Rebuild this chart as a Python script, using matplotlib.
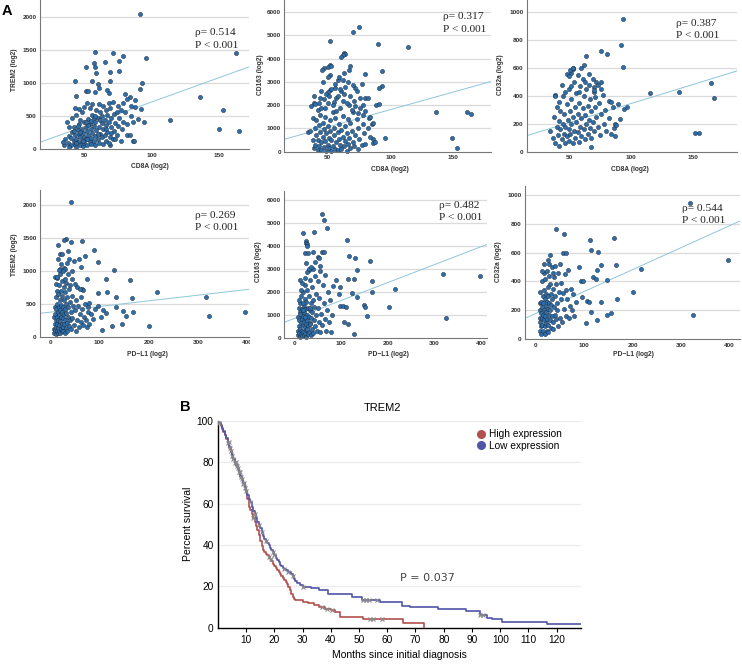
import numpy as np
import matplotlib
matplotlib.use('Agg')
import matplotlib.pyplot as plt
from matplotlib.transforms import Bbox, TransformedBbox
from matplotlib.lines import Line2D

plt.rcParams['font.family'] = ['Liberation Sans', 'DejaVu Sans']

# ---------------- Panel A data ----------------
# TREM2 vs CD8A
trem2_cd8a = [
    (91, 2040), (163, 1450), (96, 1380), (58, 1470), (71, 1460), (79, 1415), (76, 1330), (65, 1315),
    (51, 1245), (57, 1300), (58, 1245), (59, 1155), (69, 1175), (76, 1180), (43, 1030), (56, 1040),
    (69, 1030), (60, 995), (93, 1005), (61, 920), (51, 880), (53, 875), (58, 865), (67, 895),
    (68, 850), (44, 800), (136, 790), (80, 840), (84, 790), (91, 905), (88, 740), (92, 605),
    (114, 440), (153, 590), (150, 300), (165, 280), (94, 415), (86, 120), (82, 210), (69, 60),
    (36, 150), (38, 90), (39, 200), (40, 60), (40, 170), (41, 260), (42, 120), (42, 330), (43, 80),
    (43, 210), (44, 40), (44, 160), (45, 290), (45, 110), (46, 380), (46, 230), (47, 70), (47, 180),
    (48, 310), (48, 130), (49, 50), (49, 250), (50, 420), (50, 190), (50, 90), (51, 340), (51, 150),
    (52, 60), (52, 270), (53, 210), (53, 460), (54, 120), (54, 380), (55, 80), (55, 300), (55, 170),
    (56, 240), (56, 520), (57, 130), (57, 350), (58, 60), (58, 410), (58, 200), (59, 290), (60, 150),
    (60, 480), (61, 100), (61, 340), (62, 230), (62, 560), (63, 180), (63, 400), (64, 80), (64, 300),
    (65, 450), (65, 210), (66, 130), (66, 360), (67, 520), (67, 260), (68, 90), (68, 410), (69, 190),
    (69, 620), (70, 330), (70, 470), (71, 150), (72, 280), (72, 540), (73, 400), (74, 220), (75, 350),
    (75, 650), (76, 480), (77, 130), (78, 300), (79, 420), (80, 560), (82, 390), (84, 210), (85, 500),
    (87, 120), (88, 640), (90, 460), (37, 420), (39, 340), (41, 480), (44, 520), (46, 610), (48, 560),
    (50, 640), (52, 700), (54, 620), (56, 680), (59, 590), (61, 690), (64, 660), (66, 600), (68, 700),
    (71, 720), (74, 560), (77, 600), (79, 700), (82, 760), (85, 650), (86, 420), (43, 620), (47, 450),
    (53, 360), (57, 470), (60, 230), (63, 500), (45, 350), (51, 410), (49, 130), (42, 280), (58, 510),
    (62, 440), (66, 300), (70, 240), (73, 160), (55, 430), (47, 260), (52, 150), (44, 90), (39, 30),
    (35, 60), (34, 110),
]

# CD163 vs CD8A
cd163_cd8a = [
    (75, 5380), (70, 5130), (52, 4770), (90, 4630), (114, 4520), (63, 4250), (63.5, 4200), (62, 4140),
    (61, 4070), (52, 3730), (50, 3660), (53, 3700), (47, 3590), (45.5, 3530), (68, 3700), (80, 3340),
    (93, 3490), (93, 2830), (91, 2760), (58, 3100), (62, 3070), (51.5, 2670), (50, 2560), (56, 2720),
    (71.5, 2720), (80, 2330), (78, 2010), (88.5, 2030), (91, 2070), (136, 1710), (161, 1710),
    (164, 1640), (83, 1440), (85, 1170), (96, 600), (149, 610), (153, 170), (86, 530), (86, 360),
    (37, 1960), (39, 2100), (34, 860),
    (36, 900), (38, 1450), (38, 500), (39, 150), (40, 1000), (40, 300), (41, 700), (41, 1350), (42, 80),
    (42, 520), (43, 1150), (43, 250), (44, 850), (44, 1600), (45, 60), (45, 400), (46, 1250), (46, 650),
    (47, 200), (47, 980), (48, 1500), (48, 450), (49, 50), (49, 800), (50, 1100), (50, 300), (50, 2100),
    (51, 600), (51, 150), (52, 1350), (52, 900), (53, 40), (53, 500), (54, 1700), (54, 250), (55, 1000),
    (55, 700), (56, 120), (56, 1450), (57, 400), (57, 2300), (58, 850), (58, 60), (59, 1200), (59, 550),
    (60, 300), (60, 1900), (61, 950), (61, 100), (62, 650), (62, 1550), (63, 250), (63, 2500), (64, 1100),
    (64, 450), (65, 50), (65, 800), (66, 1400), (66, 350), (67, 2000), (67, 600), (68, 150), (68, 1250),
    (69, 900), (70, 400), (70, 1700), (71, 2200), (71, 250), (72, 700), (73, 1400), (74, 100), (74, 1000),
    (75, 550), (76, 1900), (77, 300), (78, 1200), (79, 800), (80, 350), (82, 1000), (84, 650), (86, 1250),
    (88, 400), (40, 2050), (42, 1800), (44, 2300), (45, 2600), (47, 2250), (48, 1900), (49, 2500),
    (51, 2400), (53, 2700), (55, 2150), (56, 2900), (58, 2400), (59, 3200), (61, 2600), (62, 2200),
    (64, 2800), (65, 2100), (66, 3000), (68, 2400), (69, 1800), (70, 2850), (72, 1950), (73, 2600),
    (74, 1650), (76, 2300), (77, 2900), (78, 1600), (80, 1750), (82, 2300), (84, 1500), (45, 1900),
    (46, 3000), (52, 3300), (57, 1750), (60, 2700), (67, 3500), (50, 3200), (63, 3400), (54, 2000),
    (43, 2100), (39, 2400),
]

# CD32a vs CD8A
cd32a_cd8a = [
    (93, 952), (76, 725), (80.5, 700), (91.5, 763), (93.7, 608), (64, 686), (62, 620), (53, 593),
    (53.5, 598), (51.6, 567), (50.8, 586), (38.5, 407), (115, 419), (138, 431), (164, 490), (166.5, 383),
    (151.6, 132), (154.5, 136), (68, 36), (86, 167), (87, 196), (91, 234), (94, 304), (97, 318),
    (89, 340), (82, 361), (84, 356), (71, 395), (76, 502), (70.4, 462), (70, 430),
    (35, 150), (37, 100), (38, 250), (39, 60), (40, 180), (40, 320), (41, 120), (42, 40), (42, 220),
    (43, 160), (43, 290), (44, 90), (45, 200), (45, 400), (46, 130), (46, 270), (47, 60), (47, 180),
    (48, 340), (48, 110), (49, 230), (50, 80), (50, 160), (50, 450), (51, 290), (51, 130), (52, 200),
    (52, 380), (53, 60), (53, 250), (54, 150), (54, 500), (55, 100), (55, 320), (56, 210), (56, 420),
    (57, 140), (57, 270), (58, 70), (58, 350), (59, 180), (59, 470), (60, 240), (60, 110), (61, 310),
    (61, 520), (62, 160), (62, 400), (63, 90), (63, 260), (64, 200), (64, 450), (65, 130), (65, 330),
    (66, 230), (66, 560), (67, 170), (67, 380), (68, 100), (68, 290), (69, 210), (70, 440), (70, 150),
    (71, 320), (72, 250), (72, 500), (73, 180), (74, 350), (75, 120), (76, 270), (77, 410), (78, 200),
    (79, 300), (80, 150), (82, 240), (84, 130), (85, 320), (87, 110), (88, 190),
    (44, 480), (48, 560), (50, 540), (53, 600), (57, 550), (60, 600), (63, 500), (66, 480), (69, 520),
    (73, 480), (76, 450), (58, 430), (52, 470), (47, 430), (42, 360), (39, 400),
]

# TREM2 vs PD-L1
trem2_pdl1 = [
    (42.5, 2040), (31.7, 1475), (29, 1465), (17, 1390), (42.5, 1430), (64.7, 1450), (89, 1320),
    (36.4, 1300), (20.2, 1255), (24.3, 1260), (38.4, 1170), (49.2, 1150), (58.7, 1177), (70, 1230),
    (97, 1125), (129, 1005), (20.2, 1025), (27.6, 1035), (31, 1030), (74, 870), (114, 870), (162, 853),
    (10.8, 900), (14.8, 890), (96.4, 667), (114.6, 682), (217, 682), (166, 591), (134, 606), (316, 606),
    (65.4, 727), (67.4, 707), (79.6, 510), (96.4, 465), (108, 409), (114, 354), (102.5, 303), (106, 101),
    (124.7, 162), (132.8, 455), (148, 389), (155, 318), (168.6, 369), (146, 192), (200, 162), (323, 313),
    (394.5, 379),
    (8, 120), (9, 300), (9, 60), (10, 200), (10, 450), (11, 100), (11, 350), (12, 40), (12, 250), (12, 600),
    (13, 150), (13, 420), (14, 80), (14, 300), (14, 700), (15, 200), (15, 500), (16, 60), (16, 380),
    (17, 130), (17, 260), (17, 640), (18, 90), (18, 450), (19, 180), (19, 330), (20, 50), (20, 560),
    (21, 240), (21, 400), (22, 120), (22, 700), (23, 300), (23, 480), (24, 80), (24, 200), (25, 380),
    (25, 620), (26, 150), (26, 280), (27, 450), (27, 90), (28, 340), (28, 550), (29, 200), (30, 60),
    (30, 420), (31, 260), (31, 680), (32, 130), (33, 360), (33, 500), (34, 210), (35, 80), (35, 600),
    (36, 300), (37, 450), (38, 160), (38, 720), (40, 250), (40, 530), (42, 380), (43, 110), (44, 620),
    (45, 290), (46, 470), (48, 180), (50, 400), (52, 80), (53, 560), (55, 250), (57, 470), (58, 150),
    (60, 350), (62, 220), (63, 600), (65, 420), (67, 180), (69, 300), (70, 500), (72, 250), (74, 150),
    (76, 380), (78, 450), (80, 200), (84, 350), (88, 270), (92, 420),
    (12, 800), (15, 900), (18, 780), (21, 950), (24, 850), (26, 1000), (28, 760), (30, 880), (33, 820),
    (36, 950), (40, 790), (44, 880), (50, 800), (55, 760), (60, 730), (19, 1010), (23, 1100), (16, 1180),
    (35, 1120), (62, 1050), (45, 1000),
]

# CD163 vs PD-L1
cd163_pdl1 = [
    (58.6, 5380), (64.3, 5130), (70, 4770), (43, 4620), (18.6, 4550), (113, 4260), (25, 4230),
    (25.7, 4140), (27.1, 4070), (27.9, 4000), (118, 3575), (129, 3470), (163, 3360), (23.6, 3680),
    (30, 3700), (40.7, 3720), (58.6, 3720), (62.9, 3720), (50.7, 3520), (52, 3460), (133.6, 2950),
    (25, 3270), (32, 2950), (39.3, 2980), (55, 3140), (319, 2760), (398, 2690), (166, 2480), (89, 2510),
    (116, 2560), (128.6, 2540), (216, 2140), (98, 2220), (123, 1930), (166, 2000), (134, 1760), (95, 1900),
    (98.6, 1395), (105, 1366), (110, 1350), (150, 1410), (151.4, 1350), (202, 1337), (155.7, 944),
    (325.7, 857), (107, 697), (114, 596), (127, 145),
    (8, 300), (9, 900), (9, 100), (10, 1300), (10, 500), (11, 200), (11, 750), (12, 1100), (12, 50),
    (13, 400), (13, 1500), (14, 650), (14, 150), (15, 1000), (15, 1800), (16, 300), (16, 800), (17, 1250),
    (17, 60), (18, 550), (18, 2000), (19, 950), (19, 250), (20, 1400), (20, 700), (21, 100), (21, 1100),
    (22, 450), (22, 1700), (23, 850), (23, 200), (24, 1250), (24, 2300), (25, 600), (25, 50), (26, 1550),
    (26, 350), (27, 1000), (28, 750), (28, 2100), (29, 150), (29, 1300), (30, 500), (31, 1800), (31, 900),
    (32, 250), (33, 1200), (33, 2500), (34, 650), (35, 100), (35, 1500), (36, 850), (37, 2200), (38, 400),
    (38, 1100), (40, 1650), (40, 200), (42, 750), (43, 1350), (44, 2700), (45, 500), (46, 1900), (47, 1000),
    (48, 300), (50, 2450), (51, 1300), (52, 700), (54, 1750), (55, 250), (56, 2900), (58, 1050), (60, 550),
    (62, 2300), (63, 1500), (65, 800), (66, 2750), (68, 300), (70, 1200), (72, 2000), (74, 700), (76, 1650),
    (78, 250), (80, 1000), (84, 2250), (14, 2100), (11, 1650), (22, 2600), (27, 2850), (32, 3000),
    (36, 3100), (45, 3300), (16, 2400), (19, 1500), (24, 900), (28, 400), (33, 600), (13, 1050), (18, 1200),
    (12, 2500), (34, 1300),
]

# CD32a vs PD-L1
cd32a_pdl1 = [
    (319, 945), (43, 760), (58, 726), (112, 687), (162, 698), (114, 617), (129, 604), (55.5, 594),
    (63, 594), (396.6, 548), (89, 502), (135.6, 516), (165.8, 516), (126.7, 479), (218.5, 484),
    (118.5, 428), (124, 415), (147.3, 410), (94.5, 405), (98, 403), (201.4, 325), (167, 281), (95.2, 290),
    (106, 265), (109.6, 258), (134, 260), (114.4, 187), (155.5, 180), (147.3, 171), (126, 134), (104, 115),
    (324.7, 166),
    (8, 150), (8, 250), (9, 60), (9, 200), (10, 120), (10, 330), (11, 180), (11, 90), (12, 260), (12, 40),
    (13, 150), (13, 400), (14, 220), (14, 100), (15, 300), (15, 170), (16, 60), (16, 250), (17, 130),
    (17, 460), (18, 200), (18, 340), (19, 90), (19, 280), (20, 160), (20, 420), (21, 230), (21, 110),
    (22, 310), (22, 190), (23, 60), (23, 470), (24, 260), (24, 140), (25, 360), (25, 210), (26, 100),
    (26, 300), (27, 170), (27, 440), (28, 250), (29, 130), (29, 380), (30, 200), (31, 80), (31, 310),
    (32, 240), (33, 160), (33, 500), (34, 280), (35, 120), (36, 350), (37, 220), (38, 430), (39, 170),
    (40, 300), (42, 140), (43, 380), (44, 250), (45, 200), (47, 460), (48, 330), (50, 150), (52, 280),
    (53, 390), (55, 120), (56, 320), (58, 210), (60, 450), (62, 160), (63, 340), (65, 280), (67, 480),
    (68, 150), (70, 230), (72, 350), (75, 200), (78, 310), (80, 160), (83, 260),
    (18, 520), (25, 550), (30, 580), (40, 510), (50, 520), (14, 470), (35, 460), (28, 520), (20, 40),
    (26, 50), (36, 70), (46, 90),
]

x_names = ['CD8A (log2)', 'CD8A (log2)', 'CD8A (log2)', 'PD\u2212L1 (log2)', 'PD\u2212L1 (log2)', 'PD\u2212L1 (log2)']
y_names = ['TREM2 (log2)', 'CD163 (log2)', 'CD32a (log2)', 'TREM2 (log2)', 'CD163 (log2)', 'CD32a (log2)']
rho_vals = ['0.514', '0.317', '0.387', '0.269', '0.482', '0.544']
fit_slope = [7.35, 15.12, 2.747, 0.859, 7.818, 1.516]
fit_icept = [-19.7, 299.6, 71.0, 371.4, 837.3, 178.4]
x_ticks = [[50, 100, 150]] * 3 + [[0, 100, 200, 300, 400]] * 3
y_ticks = [[0, 500, 1000, 1500, 2000], [0, 1000, 2000, 3000, 4000, 5000, 6000],
           [0, 200, 400, 600, 800, 1000]] * 2

# ---------------- Panel B data: Kaplan-Meier steps ----------------
high_t = [0, 0.5, 1, 1.5, 2, 2.5, 3, 3.5, 4, 4.5, 5, 5.5, 6, 6.5, 7, 7.5, 8, 8.5, 9, 9.5, 10, 10.5, 11,
          11.5, 12, 12.5, 13, 13.5, 14, 14.5, 15, 15.5, 16, 16.5, 17, 17.5, 18, 18.5, 19, 19.5, 20, 20.5,
          21, 21.5, 22, 22.5, 23, 23.5, 24, 24.5, 25, 25.5, 26, 26.5, 27, 27.5, 30, 32, 34, 36, 38, 40,
          41.5, 43.3, 51.5, 65.7, 73.1]
high_s = [100, 99, 97.5, 96, 94.5, 93, 91, 89, 87, 85, 83, 81.5, 79.5, 78, 76.5, 75, 73, 71.5, 69.5, 67.5,
          65.5, 62, 58.5, 57, 55, 53, 51, 49, 47, 45, 42, 39.5, 37.5, 36.5, 35.5, 35, 34, 33, 32, 31, 30,
          29, 28, 27, 26, 25, 24, 23, 22, 21, 19.5, 18, 16.5, 15, 14, 13.4, 12.6, 12, 11, 10, 9.2, 8.5,
          7.5, 5.3, 4.2, 2.1, 0]
high_end = 73.1
high_cens = [0.3, 3.5, 4.3, 5.2, 6, 6.8, 7.5, 8.2, 9, 9.6, 12.5, 18.3, 18.8, 37, 38.5, 40.5, 54, 55, 58]

low_t = [0, 0.5, 1, 1.5, 2, 2.5, 3, 3.5, 4, 4.5, 5, 5.5, 6, 6.5, 7, 7.5, 8, 8.5, 9, 9.5, 10, 10.5, 11,
         11.5, 12, 12.5, 13, 13.5, 14, 14.5, 15, 15.5, 16, 16.5, 17, 17.5, 18, 18.5, 19, 19.5, 20, 20.5,
         21, 21.5, 22, 22.5, 23, 23.5, 24, 25, 26, 26.5, 27, 27.5, 28, 29, 30, 33, 36, 39, 47.4, 51, 57.4,
         65.1, 68, 78.1, 88, 92.8, 95.2, 97, 100.5, 116.5]
low_s = [100, 99, 98, 96.5, 95, 93, 91.5, 89.5, 87.5, 85.5, 83.5, 81.5, 80, 78.5, 77, 75, 73.5, 72, 70, 68,
         66, 64, 62, 60.5, 58.5, 56.5, 55, 53, 51, 49.5, 48, 46, 44.5, 43, 42, 41, 40, 38.5, 37.5, 36.5, 35,
         33.5, 32.5, 31.5, 30.5, 30, 29, 28.5, 28, 27, 26, 25, 23.5, 22.5, 21.5, 20.5, 19.5, 19, 18, 16.1,
         14.7, 13.6, 12.3, 10.5, 10, 8.9, 7.9, 6.1, 4.5, 4.0, 2.9, 1.6]
low_end = 128.9
low_cens = [0.5, 3.8, 4.8, 5.5, 6.3, 7, 7.8, 8.5, 9.3, 10, 11.5, 13, 14.5, 15.5, 17, 19.5, 20, 23.5, 25,
            26.5, 30, 51.5, 52.5, 53.5, 56.5, 92.8, 94]

km_groups = ['High expression', 'Low expression']
km_colors = ['#b2504e', '#5254a8']
p_value = 'P = 0.037'

# ---------------- figure ----------------
W, H = 742, 664
fig = plt.figure(figsize=(W / 100, H / 100), dpi=100)


def px_axes(left, top, right, bottom):
    return fig.add_axes([left / W, 1 - bottom / H, (right - left) / W, (bottom - top) / H])


def ftext(x, y, s, **kw):
    return fig.text(x / W, 1 - y / H, s, **kw)


# layout in pixels: (left, top, right, bottom), xlim, ylim
boxes = [(40, 0, 249, 149.3), (284.3, 0, 490.7, 151.7), (526.7, 0, 737, 151.7),
         (40, 190, 249, 336.7), (284.3, 191, 487.3, 337.7), (525, 186, 740, 339.3)]
xlims = [(17.1, 172.3), (15.5, 179.7), (16, 185), (-20.3, 403.4), (-21.4, 413.5), (-22, 422)]
ylims = [(0, 2258), (0, 6525), (0, 1088), (0, 2223), (0, 6392), (0, 1060)]
xlab_pos = [(150, 166.7), (390, 169.3), (630, 169), (147, 354), (388, 354), (633, 354)]
ylab_pos = [(14, 70), (260, 75), (500, 75), (14, 255), (258, 262), (498, 262)]
rho_pos = [(195, 32.7, 45), (442.7, 16.7, 29.3), (675.7, 23.3, 36),
           (195, 215, 227.7), (439, 205, 217.7), (681.7, 208.3, 220.7)]

panel_data = [trem2_cd8a, cd163_cd8a, cd32a_cd8a, trem2_pdl1, cd163_pdl1, cd32a_pdl1]

for i, pts in enumerate(panel_data):
    ax = px_axes(*boxes[i])
    xy = np.array(pts, dtype=float)
    ax.set_xlim(*xlims[i])
    ax.set_ylim(*ylims[i])
    ax.set_yticks(y_ticks[i])
    ax.set_xticks(x_ticks[i])
    for yt in y_ticks[i][1:]:
        ax.axhline(yt, color='#dadada', lw=0.9, zorder=0)
    xs = np.array(xlims[i])
    ax.plot(xs, fit_icept[i] + fit_slope[i] * xs, color='#8fc5dc', lw=0.7, zorder=1)
    ax.scatter(xy[:, 0], xy[:, 1], s=9, c='#2f6ea6', edgecolors='#1a2c44', linewidths=0.35,
               zorder=2, clip_on=False)
    for side in ['top', 'right']:
        ax.spines[side].set_visible(False)
    for side in ['left', 'bottom']:
        ax.spines[side].set_color('#777777')
        ax.spines[side].set_linewidth(0.8)
    ax.tick_params(length=0, labelsize=4.6, colors='#333333', pad=2.5)
    for lbl in ax.get_xticklabels() + ax.get_yticklabels():
        lbl.set_fontweight('bold')
    if i == 3:
        clip = TransformedBbox(Bbox([[0, 0], [250 / W, 1]]), fig.transFigure)
        for lbl in ax.get_xticklabels():
            lbl.set_clip_box(clip)
            lbl.set_clip_on(True)
    ax.patch.set_alpha(0)

    ftext(*xlab_pos[i], x_names[i], ha='center', va='center', fontsize=4.8, fontweight='bold', color='#333333')
    ftext(*ylab_pos[i], y_names[i], ha='center', va='center', rotation=90, fontsize=4.8,
          fontweight='bold', color='#333333')
    rx, ry1, ry2 = rho_pos[i]
    ftext(rx, ry1, '\u03c1= ' + rho_vals[i], ha='left', va='center', fontsize=8.2,
          family=['Liberation Serif', 'DejaVu Serif'], color='#222222')
    ftext(rx, ry2, 'P < 0.001', ha='left', va='center', fontsize=8.2,
          family=['Liberation Serif', 'DejaVu Serif'], color='#222222')

ftext(2, 11, 'A', ha='left', va='center', fontsize=10.5, fontweight='bold')

# ---------------- panel B ----------------
ax = px_axes(217.8, 420.7, 581, 627.7)
ax.set_xlim(0, 128.6)
ax.set_ylim(0, 100)
for yt in [20, 40, 60, 80, 100]:
    ax.axhline(yt, color='#ececec', lw=0.9, zorder=0)

curves = [(high_t, high_s, high_end, high_cens), (low_t, low_s, low_end, low_cens)]
for (t, s, end, cens), col in zip(curves, km_colors):
    t = np.array(t, dtype=float)
    s = np.array(s, dtype=float)
    ax.step(np.append(t, end), np.append(s, s[-1]), where='post', color=col, lw=1.2, zorder=3)
    ct = np.array(cens, dtype=float)
    cs = s[np.searchsorted(t, ct, side='right') - 1]
    ax.plot(ct, cs, ls='none', marker='x', ms=3.2, mew=0.8, color='#8a8a8a', zorder=4)

ax.set_xticks(range(10, 121, 10))
ax.set_yticks(range(0, 101, 20))
ax.tick_params(axis='x', length=3, width=0.8, labelsize=7.3, pad=2)
ax.tick_params(axis='y', length=0, labelsize=7.3, pad=3)
for side in ['top', 'right']:
    ax.spines[side].set_visible(False)
for side in ['left', 'bottom']:
    ax.spines[side].set_linewidth(1.0)
ax.set_xlabel('Months since initial diagnosis', fontsize=7.5, labelpad=4)
ax.set_ylabel('Percent survival', fontsize=7.5, labelpad=3)
ax.patch.set_alpha(0)

handles = [Line2D([], [], ls='none', marker='o', ms=5.5, color=c) for c in km_colors]
fig.legend(handles, km_groups, loc='upper left', bbox_to_anchor=(470 / W, 1 - 424 / H), frameon=False,
           fontsize=7.3, handletextpad=0.2, labelspacing=0.15, borderpad=0, handlelength=1.2)

ftext(382, 408, 'TREM2', ha='center', va='center', fontsize=8)
ftext(400, 578, p_value, ha='left', va='center', fontsize=8, family='DejaVu Sans', color='#444444')
ftext(180, 407, 'B', ha='left', va='center', fontsize=10.5, fontweight='bold')

fig.savefig('out.png', dpi=100)
